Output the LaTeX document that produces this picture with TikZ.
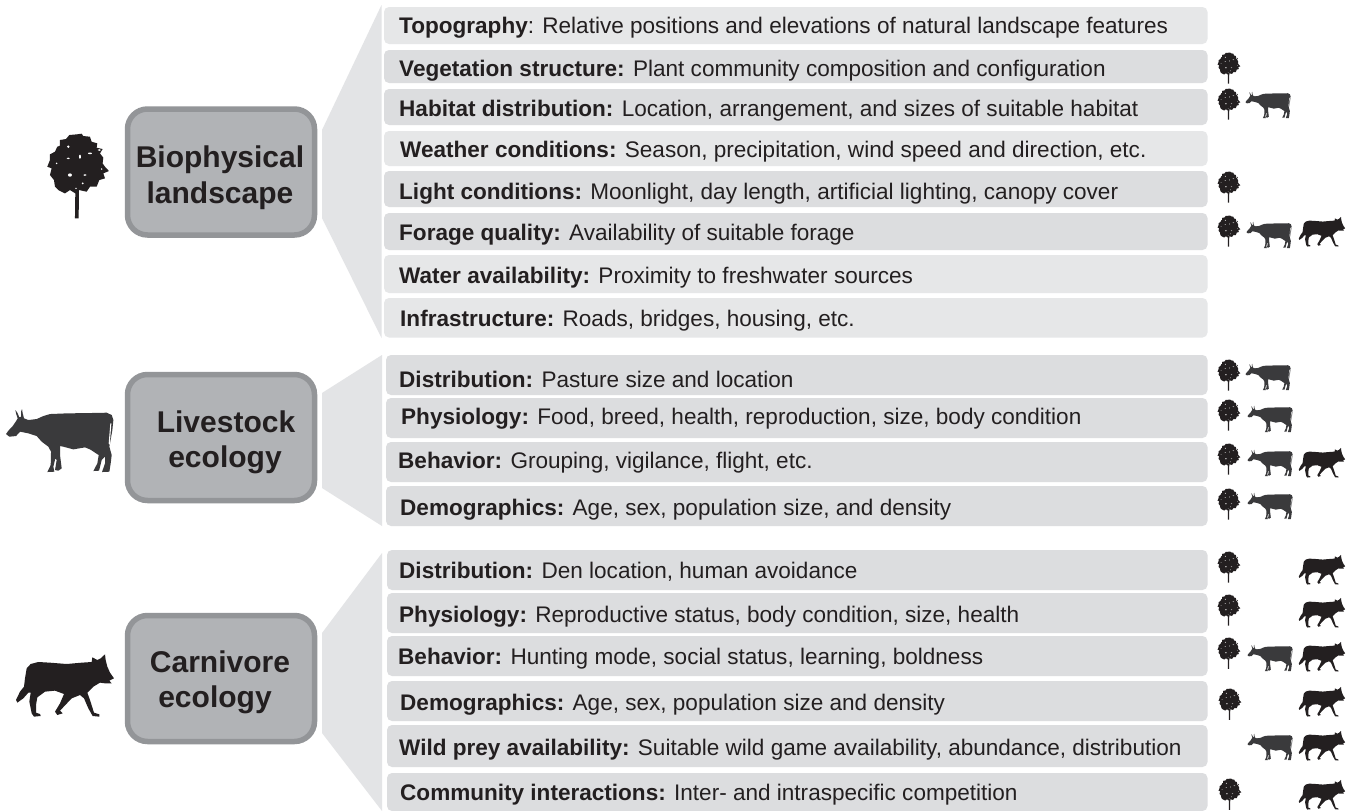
\documentclass[tikz,border=0pt]{standalone}
\usepackage{fontspec}
\setmainfont{Liberation Sans}
\definecolor{ink}{HTML}{231F20}
\definecolor{cowink}{HTML}{3A3A3C}
\definecolor{barA}{HTML}{E6E7E8}
\definecolor{barB}{HTML}{DCDDDF}
\definecolor{funnel}{HTML}{E3E4E6}
\definecolor{boxfill}{HTML}{B1B3B6}
\definecolor{boxline}{HTML}{939598}
\tikzset{
  barstyle/.style={rectangle,rounded corners=5pt,inner sep=0pt,outer sep=0pt,draw=none},
  rowtext/.style={anchor=base west,inner sep=0pt,text=ink,font=\fontsize{22.55}{26}\selectfont},
  catbox/.style={rectangle,rounded corners=20pt,draw=boxline,line width=5.5pt,fill=boxfill,minimum width=187pt,minimum height=126pt,inner sep=0pt},
  catlabel/.style={anchor=base,inner sep=0pt,text=ink,font=\fontsize{30}{36}\selectfont\bfseries},
  treeicon/.pic={
    \fill[ink,shift={(-115,-152)},line join=round] (110,28)--(125,26)--(130,33)--(150,35)--(155,50)--(172,55)--(170,68)--(188,72)--(180,85)--(190,98)--(188,115)--(195,125)--(207,138)--(190,145)--(195,160)--(178,165)--(170,185)--(150,185)--(140,200)--(117,195)--(117,205)--(116,280)--(105,280)--(106,205)--(90,195)--(75,205)--(55,195)--(45,185)--(42,165)--(30,150)--(35,130)--(22,125)--(30,105)--(30,88)--(45,80)--(52,65)--(60,62)--(60,45)--(78,42)--(88,30)--cycle;
    \fill[white,shift={(-115,-152)}] (85,65) circle (4) (120,95) ellipse (3 and 6) (150,85) ellipse (6 and 2.5) (178,75) ellipse (5 and 2.5) (85,100) ellipse (5 and 2.5) (50,115) circle (2.5) (90,150) ellipse (6 and 5) (135,150) ellipse (5 and 2.5) (128,175) circle (3) (185,132) circle (2.5) (108,190) circle (2.5);
  },
  cowicon/.pic={
    \fill[cowink,shift={(-179,-122)},line join=round] (18,102)--(25,92)--(38,78)--(47,65)--(53,55)--(48,40)--(46,30)--(52,38)--(58,52)--(63,50)--(63,35)--(66,27)--(68,40)--(72,55)--(85,60)--(110,57)--(130,48)--(150,42)--(200,40)--(270,39)--(320,38)--(335,45)--(340,60)--(337,90)--(330,130)--(328,140)--(335,165)--(332,190)--(328,215)--(306,216)--(315,190)--(315,170)--(305,180)--(297,212)--(280,213)--(292,190)--(296,165)--(270,148)--(255,142)--(220,148)--(190,140)--(180,138)--(180,165)--(185,205)--(175,212)--(165,210)--(170,180)--(166,175)--(160,200)--(163,215)--(142,216)--(152,195)--(153,155)--(145,140)--(125,125)--(110,108)--(85,100)--(60,95)--(48,108)--(28,110)--cycle;
    \fill[white,shift={(-179,-122)}] (331,70)--(334,70)--(329,135)--(326,130)--cycle;
  },
  wolficon/.pic={
    \fill[ink,shift={(-165,-108)},line join=round] (312,85)--(300,68)--(292,50)--(287,30)--(285,13)--(272,25)--(262,30)--(247,22)--(245,36)--(215,38)--(170,42)--(120,38)--(85,36)--(62,42)--(50,55)--(45,85)--(42,110)--(30,125)--(18,150)--(22,158)--(40,145)--(55,128)--(62,128)--(58,155)--(65,190)--(72,200)--(92,198)--(90,192)--(78,188)--(78,165)--(82,142)--(105,125)--(135,122)--(162,132)--(150,160)--(135,185)--(142,195)--(158,190)--(150,182)--(185,145)--(210,135)--(222,145)--(235,175)--(248,198)--(268,200)--(268,193)--(252,188)--(240,150)--(232,128)--(250,110)--(270,98)--(285,100)--(305,100)--(298,92)--cycle;
  },
}
% name, top, bottom, fill, text x, baseline, bold, rest
\newcommand{\rowbar}[8]{%
  \pgfmathsetmacro{\rowh}{#3-#2}%
  \pgfmathsetmacro{\rowm}{(#3+#2)/2}%
  \pgfmathsetmacro{\rowc}{(\barleft+1207.5)/2}%
  \pgfmathsetmacro{\roww}{1207.5-\barleft}%
  \node[barstyle,fill=#4,minimum width=\roww pt,minimum height=\rowh pt] (#1) at (\rowc,\rowm) {};
  \node[rowtext] (#1t) at (#5,#6) {\textbf{#7}#8};
}
\newcommand{\icT}[2]{\pic[scale=.123] at (#1,#2) {treeicon};}
\newcommand{\icC}[2]{\pic[scale=.14] at (#1,#2) {cowicon};}
\newcommand{\icW}[2]{\pic[scale=.158] at (#1,#2) {wolficon};}
\begin{document}
\begin{tikzpicture}[x=1pt,y=-1pt]
\useasboundingbox (0,0) rectangle (1353,811);
\fill[white] (0,0) rectangle (1353,811);
% funnels
\fill[funnel] (322,130)--(381.5,5)--(381.5,338)--(322,218)--cycle;
\fill[funnel] (322,393)--(382,355)--(382,526)--(322,488)--cycle;
\fill[funnel] (322,633)--(382,553)--(382,811)--(322,733)--cycle;
% category boxes
\node[catbox] (bio) at (221,172) {};
\node[catbox] (live) at (221,437.5) {};
\node[catbox] (carn) at (221,678.5) {};
\node[catlabel] (bioa) at (220,167) {Biophysical};
\node[catlabel] (biob) at (220,203) {landscape};
\node[catlabel] (livea) at (226,432) {Livestock};
\node[catlabel] (liveb) at (225,467) {ecology};
\node[catlabel] (carna) at (220,672) {Carnivore};
\node[catlabel] (carnb) at (215,707) {ecology};
% big icons
\pic[scale=.3333] at (78.3,175.7) {treeicon};
\pic[scale=.3333] at (59.7,440.7) {cowicon};
\pic[scale=.3333] at (65,686) {wolficon};
% rows
\def\barleft{384}
\rowbar{r1}{7}{44}{barA}{399}{33.5}{Topography}{: Relative positions and elevations of natural landscape features}
\rowbar{r2}{50}{83}{barB}{399}{76}{Vegetation structure:}{ Plant community composition and configuration}
\rowbar{r3}{89}{125}{barB}{399}{116.5}{Habitat distribution:}{ Location, arrangement, and sizes of suitable habitat}
\rowbar{r4}{131}{166}{barA}{400}{157.5}{Weather conditions:}{ Season, precipitation, wind speed and direction, etc.}
\rowbar{r5}{171}{207}{barB}{399}{199.3}{Light conditions:}{ Moonlight, day length, artificial lighting, canopy cover}
\rowbar{r6}{213}{250}{barB}{399}{240.5}{Forage quality:}{ Availability of suitable forage}
\rowbar{r7}{255}{293}{barA}{399}{283}{Water availability:}{ Proximity to freshwater sources}
\rowbar{r8}{298}{337.5}{barA}{400}{326.5}{Infrastructure:}{ Roads, bridges, housing, etc.}
\def\barleft{386}
\rowbar{l1}{355}{395}{barB}{399}{387.5}{Distribution:}{ Pasture size and location}
\rowbar{l2}{398}{438}{barB}{401}{424.5}{Physiology:}{ Food, breed, health, reproduction, size, body condition}
\rowbar{l3}{442}{482}{barB}{398}{468.3}{Behavior:}{ Grouping, vigilance, flight, etc.}
\rowbar{l4}{486}{526}{barB}{400}{515}{Demographics:}{ Age, sex, population size, and density}
\def\barleft{387}
\rowbar{c1}{550}{590}{barB}{399}{578.3}{Distribution:}{ Den location, human avoidance}
\rowbar{c2}{593}{633}{barB}{399}{622.3}{Physiology:}{ Reproductive status, body condition, size, health}
\rowbar{c3}{636}{676}{barB}{398}{664}{Behavior:}{ Hunting mode, social status, learning, boldness}
\rowbar{c4}{681}{721}{barB}{400}{710}{Demographics:}{ Age, sex, population size and density}
\rowbar{c5}{725}{767}{barB}{399}{755}{Wild prey availability:}{ Suitable wild game availability, abundance, distribution}
\rowbar{c6}{773}{811}{barB}{400}{800}{Community interactions:}{ Inter- and intraspecific competition}
% small icons
\icT{1229}{68}
\icT{1229}{104}\icC{1268}{105}
\icT{1229}{187}
\icT{1229}{231}\icC{1269}{235}\icW{1322}{232}
\icT{1229}{375}\icC{1268}{377}
\icT{1229}{415}\icC{1270}{419}
\icT{1229}{459}\icC{1270}{463}\icW{1322}{463}
\icT{1229}{504}\icC{1270}{506}
\icT{1229}{567}\icW{1322}{570}
\icT{1229}{610}\icW{1322}{613}
\icT{1229}{653}\icC{1270}{658}\icW{1322}{657}
\icT{1230}{704}\icW{1322}{702}
\icC{1270}{747}\icW{1322}{746}
\icT{1230}{794}\icW{1322}{795}
\end{tikzpicture}
\end{document}
